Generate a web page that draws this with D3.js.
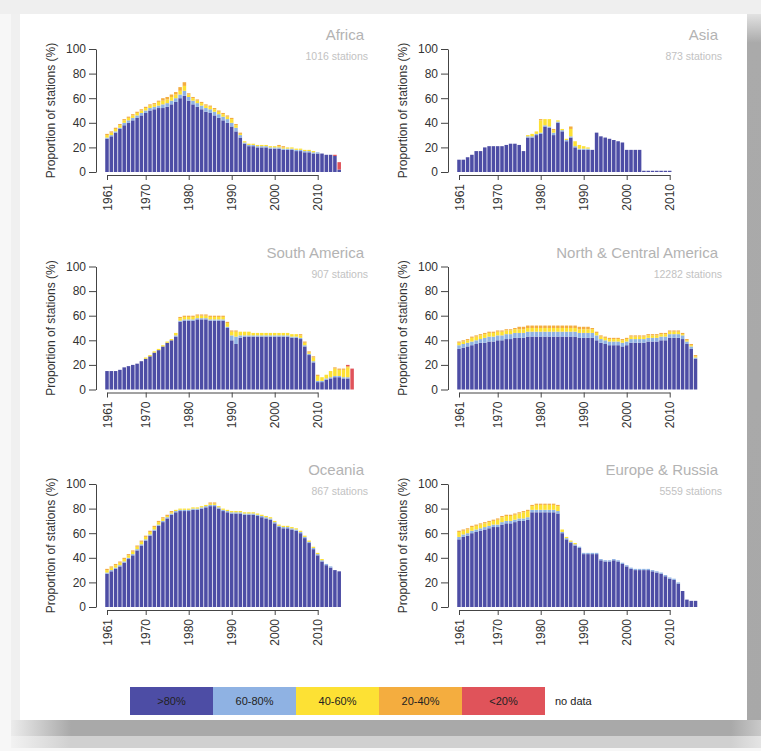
<!DOCTYPE html>
<html>
<head>
<meta charset="utf-8">
<script src="https://cdn.jsdelivr.net/npm/d3@7"></script>
<style>
  html, body { margin: 0; padding: 0; background: #f6f6f6; }
  svg { display: block; font-family: "Liberation Sans", Arial, sans-serif; }
</style>
</head>
<body>
<svg id="chart" width="761" height="751"></svg>
<script>
"use strict";

// categories (share of complete data per station)
const keys = [">80%", "60-80%", "40-60%", "20-40%", "<20%"];
const colors = ["#4d4da5", "#8fb2e3", "#fde134", "#f4ad3f", "#e0535a"];
const xTicks = [1961, 1970, 1980, 1990, 2000, 2010];
const yTicks = [0, 20, 40, 60, 80, 100];

// Africa 1961-2015
const africa80 = [27,29,32,35,38,40,42,44,46,48, 50,51,52,52,53,55,57,60,62,58, 55,53,51,49,48,46,44,42,40,37, 33,28,23,21,21,20,20,20,19,19, 19,18,18,18,17,17,16,16,15,15, 15,14,14,13,2];
const africa60 = [1,1,1,1,2,2,2,2,2,2, 2,2,2,3,3,3,3,3,4,3, 3,3,3,3,3,3,3,3,3,3, 3,2,1,1,1,1,1,1,1,1, 1,1,1,1,1,1,1,1,1,1, 0,0,0,0,0];
const africa40 = [2,2,2,2,2,2,2,2,2,2, 2,2,3,3,3,3,3,3,4,2, 2,2,2,2,2,2,2,2,2,3, 2,1,1,1,1,1,1,1,1,1, 1,1,1,1,1,1,1,1,1,0, 0,0,0,0,0];
const africa20 = [1,1,1,1,1,1,1,1,1,1, 1,1,1,2,2,2,2,3,3,1, 1,1,1,1,1,1,1,1,1,1, 1,1,0,0,0,0,0,0,0,0, 1,1,0,0,0,0,0,0,0,0, 0,0,0,0,0];
const africaLow = [0,0,0,0,0,0,0,0,0,0, 0,0,0,0,0,0,0,0,0,0, 0,0,0,0,0,0,0,0,0,0, 0,0,0,0,0,0,0,0,0,0, 0,0,0,0,0,0,0,0,0,0, 0,0,0,1,6];

// Asia 1961-2010
const asia80 = [10,10,12,14,17,17,20,21,21,21, 21,22,23,23,22,17,28,28,30,31, 37,36,30,40,33,25,28,20,18,18, 18,18,32,29,28,27,26,25,24,18, 18,18,18,1,1,1,1,1,1,1];
const asia60 = [0,0,0,0,0,0,0,0,0,0, 0,0,0,0,0,0,1,1,1,1, 1,1,2,1,1,1,1,1,1,1, 1,0,0,0,0,0,0,0,0,0, 0,0,0,0,0,0,0,0,0,0];
const asia40 = [0,0,0,0,0,0,0,0,0,0, 0,0,0,0,0,0,1,2,2,10, 5,6,2,1,1,1,6,4,3,2, 1,0,0,0,0,0,0,0,0,0, 0,0,0,0,0,0,0,0,0,0];
const asia20 = [0,0,0,0,0,0,0,0,0,0, 0,0,0,0,0,0,0,0,0,1, 0,0,1,0,0,0,2,0,0,0, 0,0,0,0,0,0,0,0,0,0, 0,0,0,0,0,0,0,0,0,0];
const asiaLow = [0,0,0,0,0,0,0,0,0,0, 0,0,0,0,0,0,0,0,0,0, 0,0,0,0,0,0,0,0,0,0, 0,0,0,0,0,0,0,0,0,0, 0,0,0,0,0,0,0,0,0,0];

// South America 1961-2018
const samer80 = [15,15,15,16,18,19,20,21,23,25, 27,30,32,35,38,40,43,55,56,56, 56,57,57,57,56,56,56,56,50,40, 37,42,43,43,43,43,43,43,43,43, 43,43,43,42,42,41,35,28,22,6, 6,8,9,10,10,9,9,0];
const samer60 = [0,0,0,0,0,0,0,0,0,0, 0,0,0,0,0,0,1,1,1,1, 1,1,1,1,1,1,1,1,1,4, 6,2,1,1,1,1,1,1,1,1, 1,1,1,1,1,1,1,1,1,1, 1,1,1,1,1,1,1,0];
const samer40 = [0,0,0,0,0,0,0,0,0,1, 1,1,1,1,1,1,2,2,2,2, 2,2,2,2,2,2,2,2,3,3, 4,3,3,3,2,2,2,2,2,2, 2,2,2,2,2,2,2,1,3,4, 3,3,5,6,5,6,8,0];
const samer20 = [0,0,0,0,0,0,0,0,0,0, 0,0,0,0,0,0,0,1,1,1, 1,1,1,1,1,1,1,1,1,1, 1,0,0,0,0,0,0,0,0,0, 0,0,0,0,0,1,1,1,1,1, 0,0,0,1,1,1,1,0];
const samerLow = [0,0,0,0,0,0,0,0,0,0, 0,0,0,0,0,0,0,0,0,0, 0,0,0,0,0,0,0,0,0,0, 0,0,0,0,0,0,0,0,0,0, 0,0,0,0,0,0,0,0,0,0, 0,0,0,0,0,0,1,17];

// North & Central America 1961-2016
const namer80 = [33,34,35,36,37,38,38,39,39,40, 40,41,41,42,42,42,43,43,43,43, 43,43,43,43,43,43,43,43,42,42, 42,42,40,38,37,36,36,36,35,36, 38,38,38,38,39,39,39,40,40,42, 42,42,41,37,33,25];
const namer60 = [3,3,3,3,3,3,4,4,4,4, 4,4,4,4,4,4,4,4,4,4, 4,4,4,4,4,4,4,4,4,4, 4,4,4,3,3,3,3,3,3,3, 3,3,3,3,3,3,3,3,3,3, 3,3,3,2,2,1];
const namer40 = [2,2,2,3,3,3,3,3,3,3, 3,3,3,3,3,3,3,3,3,3, 3,3,3,3,3,3,3,3,3,3, 3,3,2,2,2,2,2,2,2,2, 2,2,2,2,2,2,2,2,2,2, 2,2,1,1,1,1];
const namer20 = [1,1,1,1,1,1,1,1,1,1, 1,1,1,1,2,2,2,2,2,2, 2,2,2,2,2,2,2,2,2,2, 2,1,1,1,1,1,1,1,1,1, 1,1,1,1,1,1,1,1,1,1, 1,1,1,1,1,1];
const namerLow = [0,0,0,0,0,0,0,0,0,0, 0,0,0,0,0,0,0,0,0,0, 0,0,0,0,0,0,0,0,0,0, 0,0,0,0,0,0,0,0,0,0, 0,0,0,0,0,0,0,0,0,0, 0,0,0,0,0,0];

// Oceania 1961-2015
const ocean80 = [27,29,31,33,36,39,42,46,50,54, 58,62,66,69,72,75,77,78,78,78, 79,79,80,81,82,82,80,78,77,76, 76,76,75,75,75,74,73,72,71,68, 65,64,64,63,62,60,56,52,47,42, 37,34,32,30,29];
const ocean60 = [1,1,1,1,1,1,1,1,1,1, 1,1,1,1,1,1,1,1,1,1, 1,1,1,1,1,1,1,1,1,1, 1,1,1,1,1,1,1,1,1,1, 1,1,1,1,1,1,1,1,1,1, 1,1,1,0,0];
const ocean40 = [2,2,2,2,2,2,2,2,2,2, 2,2,2,2,1,1,1,1,1,1, 1,1,1,1,1,1,1,1,1,1, 1,1,1,1,1,1,1,1,1,1, 1,1,1,1,1,1,1,1,1,1, 1,0,0,0,0];
const ocean20 = [1,1,1,1,1,1,1,1,1,1, 1,1,1,1,1,1,0,0,0,0, 0,0,0,0,1,1,0,0,0,0, 0,0,0,0,0,0,0,0,0,0, 0,0,0,0,0,0,0,0,0,0, 0,0,0,0,0];
const oceanLow = [0,0,0,0,0,0,0,0,0,0, 0,0,0,0,0,0,0,0,0,0, 0,0,0,0,0,0,0,0,0,0, 0,0,0,0,0,0,0,0,0,0, 0,0,0,0,0,0,0,0,0,0, 0,0,0,0,0];

// Europe & Russia 1961-2016
const europe80 = [55,57,58,60,61,62,63,64,65,65, 67,68,68,69,70,70,71,77,77,77, 77,77,77,76,60,55,52,50,48,43, 43,43,43,38,37,37,38,37,35,33, 31,30,30,30,30,29,28,27,25,23, 22,19,13,6,5,5];
const europe60 = [2,2,2,2,2,2,2,2,2,2, 2,2,2,2,2,2,2,2,2,2, 2,2,2,2,1,1,1,1,1,1, 1,1,1,1,1,1,1,1,1,1, 1,1,1,1,1,1,1,1,1,1, 1,1,0,0,0,0];
const europe40 = [4,3,3,3,3,3,3,3,3,4, 4,4,4,4,4,5,5,3,4,4, 4,4,4,4,2,1,1,1,0,0, 0,0,0,0,0,0,0,0,0,0, 0,0,0,0,0,0,0,0,0,0, 0,0,0,0,0,0];
const europe20 = [1,1,1,1,1,1,1,1,1,1, 1,1,1,1,1,1,1,1,1,1, 1,1,1,1,0,0,0,0,0,0, 0,0,0,0,0,0,0,0,0,0, 0,0,0,0,0,0,0,0,0,0, 0,0,0,0,0,0];
const europeLow = [0,0,0,0,0,0,0,0,0,0, 0,0,0,0,0,0,0,0,0,0, 0,0,0,0,0,0,0,0,0,0, 0,0,0,0,0,0,0,0,0,0, 0,0,0,0,0,0,0,0,0,0, 0,0,0,0,0,0];

const regions = [
  { name: "Africa", stations: "1016 stations", start: 1961, series: [africa80, africa60, africa40, africa20, africaLow] },
  { name: "Asia", stations: "873 stations", start: 1961, series: [asia80, asia60, asia40, asia20, asiaLow] },
  { name: "South America", stations: "907 stations", start: 1961, series: [samer80, samer60, samer40, samer20, samerLow] },
  { name: "North & Central America", stations: "12282 stations", start: 1961, series: [namer80, namer60, namer40, namer20, namerLow] },
  { name: "Oceania", stations: "867 stations", start: 1961, series: [ocean80, ocean60, ocean40, ocean20, oceanLow] },
  { name: "Europe & Russia", stations: "5559 stations", start: 1961, series: [europe80, europe60, europe40, europe20, europeLow] },
];

// layout
const step = 4.3; // px per year
const colAxisX = [96, 448];
const colRight = [364, 718];
const rowTop = [49, 266.5, 484]; // y of the 100% tick
const plotH = 123;

const svg = d3.select("#chart");

// card with drop shadow
const defs = svg.append("defs");
const gRight = defs.append("linearGradient").attr("id", "shRight").attr("x1", 0).attr("y1", 0).attr("x2", 0).attr("y2", 1);
gRight.append("stop").attr("offset", "0%").attr("stop-color", "#e2e2e2");
gRight.append("stop").attr("offset", "4%").attr("stop-color", "#aaaaaa");
gRight.append("stop").attr("offset", "100%").attr("stop-color", "#a8a8a8");
const gBot = defs.append("linearGradient").attr("id", "shBot").attr("x1", 0).attr("y1", 0).attr("x2", 1).attr("y2", 0);
gBot.append("stop").attr("offset", "0%").attr("stop-color", "#ececec");
gBot.append("stop").attr("offset", "8%").attr("stop-color", "#a9a9a9");
gBot.append("stop").attr("offset", "96%").attr("stop-color", "#a9a9a9");
gBot.append("stop").attr("offset", "100%").attr("stop-color", "#c9c9c9");
const gBot2 = defs.append("linearGradient").attr("id", "shBot2").attr("x1", 0).attr("y1", 0).attr("x2", 1).attr("y2", 0);
gBot2.append("stop").attr("offset", "0%").attr("stop-color", "#f2f2f2");
gBot2.append("stop").attr("offset", "8%").attr("stop-color", "#d0d0d0");
gBot2.append("stop").attr("offset", "96%").attr("stop-color", "#d0d0d0");
gBot2.append("stop").attr("offset", "100%").attr("stop-color", "#e4e4e4");

svg.append("rect").attr("width", 761).attr("height", 751).attr("fill", "#f7f7f7");
svg.append("rect").attr("width", 761).attr("height", 14).attr("fill", "#efefef");
svg.append("rect").attr("x", 11).attr("y", 14).attr("width", 9).attr("height", 707).attr("fill", "#f0f0f0");
svg.append("rect").attr("x", 747).attr("y", 14).attr("width", 14).attr("height", 722).attr("fill", "url(#shRight)");
svg.append("rect").attr("x", 11).attr("y", 720).attr("width", 750).attr("height", 16).attr("fill", "url(#shBot)");
svg.append("rect").attr("x", 11).attr("y", 736).attr("width", 750).attr("height", 12).attr("fill", "url(#shBot2)");
svg.append("rect").attr("x", 20).attr("y", 14).attr("width", 727).attr("height", 706).attr("fill", "#fff");

function drawPanel(region, idx) {
  const col = idx % 2;
  const row = Math.floor(idx / 2);
  const axisX = colAxisX[col];
  const yTop = rowTop[row];
  const n = region.series[0].length;
  const years = d3.range(region.start, region.start + n);
  const rows = years.map((yr, i) => {
    const o = { year: yr };
    keys.forEach((k, j) => { o[k] = region.series[j][i]; });
    return o;
  });

  const x0 = axisX + 11 - step / 2;
  const x = d3.scaleBand().domain(years).range([x0, x0 + step * n])
    .paddingInner(0.18).paddingOuter(0.09);
  const y = d3.scaleLinear().domain([0, 100]).range([yTop + plotH, yTop]);
  const stacked = d3.stack().keys(keys)(rows);

  const g = svg.append("g").attr("class", "panel");

  g.selectAll("g.layer").data(stacked).join("g")
    .attr("class", "layer")
    .attr("fill", (d, i) => colors[i])
    .selectAll("rect").data(d => d).join("rect")
    .attr("x", d => x(d.data.year))
    .attr("width", x.bandwidth())
    .attr("y", d => y(d[1]))
    .attr("height", d => y(d[0]) - y(d[1]));

  // y axis
  const ya = g.append("g").attr("transform", `translate(${axisX},0)`)
    .call(d3.axisLeft(y).tickValues(yTicks).tickSize(7).tickSizeOuter(0).tickPadding(3));
  // x axis, from the 1961 tick to the 2010 tick
  const c1961 = x(1961) + x.bandwidth() / 2;
  const xt = d3.scaleLinear().domain([1961, 2010]).range([c1961, c1961 + 49 * x.step()]);
  const xa = g.append("g").attr("transform", `translate(0,${y(0) + 3})`)
    .call(d3.axisBottom(xt).tickValues(xTicks).tickSize(5).tickSizeOuter(0).tickFormat(d3.format("d")));
  xa.selectAll(".tick text")
    .attr("transform", "rotate(-90)")
    .attr("x", -9).attr("y", 0).attr("dy", "0.35em")
    .attr("text-anchor", "end");

  [ya, xa].forEach(a => {
    a.attr("font-family", null).attr("font-size", null);
    a.select(".domain").attr("stroke", "#444");
    a.selectAll(".tick line").attr("stroke", "#444");
    a.selectAll(".tick text").attr("fill", "#333").style("font-size", "12px");
  });

  g.append("text")
    .attr("transform", `translate(${axisX - 41},${yTop + plotH / 2}) rotate(-90)`)
    .attr("text-anchor", "middle")
    .attr("fill", "#333")
    .style("font-size", "12px")
    .text("Proportion of stations (%)");

  g.append("text")
    .attr("x", colRight[col]).attr("y", yTop - 9)
    .attr("text-anchor", "end")
    .attr("fill", "#b3b3b3")
    .style("font-size", "15px")
    .text(region.name);

  g.append("text")
    .attr("x", colRight[col] + 4).attr("y", yTop + 11)
    .attr("text-anchor", "end")
    .attr("fill", "#c2c2c2")
    .style("font-size", "10.5px")
    .text(region.stations);
}

regions.forEach(drawPanel);

// legend
const legendLabels = keys.concat(["no data"]);
const legendFill = colors.concat(["#fff"]);
const lx = d3.scaleBand().domain(legendLabels).range([130, 130 + 83 * 6]);
const legend = svg.append("g").attr("class", "legend");
legend.selectAll("rect").data(legendLabels).join("rect")
  .attr("x", d => lx(d)).attr("y", 687)
  .attr("width", lx.bandwidth()).attr("height", 28)
  .attr("fill", (d, i) => legendFill[i]);
legend.selectAll("text").data(legendLabels).join("text")
  .attr("x", d => d === "no data" ? lx(d) + 10 : lx(d) + lx.bandwidth() / 2)
  .attr("y", 701)
  .attr("dy", "0.35em")
  .attr("text-anchor", d => d === "no data" ? "start" : "middle")
  .attr("fill", "#222")
  .style("font-size", "11px")
  .text(d => d);
</script>
</body>
</html>
